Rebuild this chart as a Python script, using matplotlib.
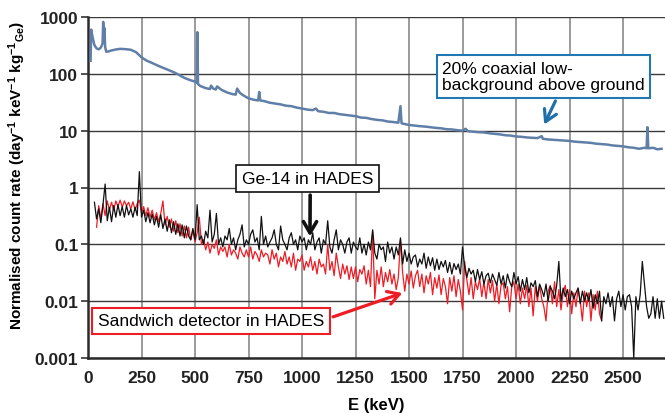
import matplotlib

matplotlib.use("Agg")
import matplotlib.pyplot as plt
import numpy as np

# 20% coaxial detector above ground (energy keV, rate)
blue_energy = [
    12, 15, 22, 30, 40, 50, 60, 68, 71, 74, 77, 80, 85, 95, 110, 130, 150, 175,
    200, 225, 250, 275, 300, 325, 350, 375, 400, 425, 450, 475, 500, 508, 511,
    514, 525, 550, 570, 575, 585, 597, 603, 625, 650, 675, 690, 697, 710, 725,
    750, 775, 795, 800, 805, 825, 850, 875, 900, 925, 950, 975, 1000, 1025,
    1050, 1065, 1075, 1100, 1125, 1150, 1175, 1200, 1225, 1250, 1275, 1300,
    1325, 1350, 1375, 1400, 1425, 1450, 1460, 1465, 1475, 1500, 1525, 1550,
    1575, 1600, 1625, 1650, 1675, 1700, 1725, 1750, 1764, 1775, 1800, 1825,
    1850, 1875, 1900, 1925, 1950, 1975, 2000, 2025, 2050, 2075, 2100, 2120,
    2125, 2150, 2175, 2200, 2225, 2250, 2275, 2300, 2325, 2350, 2375, 2400,
    2425, 2450, 2475, 2500, 2525, 2550, 2575, 2600, 2610, 2614, 2618, 2640,
    2660, 2680,
]
blue_rate = [
    170, 600, 430, 320, 280, 270, 290, 340, 820, 420, 640, 300, 245, 248, 258,
    268, 275, 272, 265, 240, 195, 170, 155, 140, 128, 117, 107, 96, 85, 78, 73,
    70, 540, 66, 61, 56, 54, 62, 55, 53, 60, 52, 47, 44, 43, 55, 46, 42, 37,
    35, 34, 48, 34, 33, 31, 30, 29, 27.5, 27, 25.5, 24.5, 23.5, 23, 24.5, 22,
    21.5, 20.5, 20.5, 19.5, 19, 18.5, 18, 17, 16.8, 16, 15.5, 15.2, 14.5, 14.2,
    13.8, 27, 13.5, 13.2, 12.6, 12.3, 12, 11.8, 11.5, 11.2, 11, 10.6, 10.5,
    10.2, 10, 10.8, 9.8, 9.6, 9.4, 9.3, 9.0, 8.8, 8.6, 8.3, 8.2, 7.9, 7.8, 7.6,
    7.5, 7.4, 8.0, 7.2, 7.0, 6.9, 6.8, 6.7, 6.6, 6.4, 6.3, 6.2, 6.1, 5.9, 5.8,
    5.7, 5.5, 5.4, 5.3, 5.1, 5.0, 4.8, 5.0, 4.9, 11.5, 4.9, 5.0, 4.7, 4.8,
]

# Ge-14 in HADES, 10 keV bins from 30 keV
ge14_energy = np.arange(30, 2700, 10)
ge14_rate = [
    0.55, 0.28, 0.42, 0.24, 0.50, 1.15, 0.26, 0.45, 0.25, 0.48,
    0.30, 0.50, 0.32, 0.46, 0.30, 0.48, 0.33, 0.42, 0.30, 0.45,
    0.32, 1.90, 0.30, 0.40, 0.25, 0.36, 0.24, 0.34, 0.22, 0.31,
    0.20, 0.33, 0.19, 0.28, 0.17, 0.27, 0.16, 0.25, 0.15, 0.23,
    0.14, 0.22, 0.13, 0.21, 0.14, 0.12, 0.19, 0.12, 0.50, 0.12,
    0.14, 0.10, 0.17, 0.13, 0.40, 0.11, 0.15, 0.35, 0.10, 0.13,
    0.09, 0.14, 0.12, 0.19, 0.10, 0.13, 0.08, 0.12, 0.15, 0.22,
    0.09, 0.12, 0.10, 0.15, 0.18, 0.11, 0.13, 0.08, 0.31, 0.10,
    0.14, 0.09, 0.11, 0.13, 0.18, 0.10, 0.08, 0.21, 0.12, 0.10,
    0.08, 0.13, 0.16, 0.10, 0.12, 0.08, 0.14, 0.11, 0.13, 0.08,
    0.12, 0.10, 0.16, 0.08, 0.11, 0.13, 0.07, 0.12, 0.10, 0.26,
    0.09, 0.07, 0.12, 0.18, 0.08, 0.12, 0.10, 0.07, 0.11, 0.13,
    0.07, 0.11, 0.09, 0.08, 0.13, 0.07, 0.10, 0.065, 0.11, 0.08,
    0.18, 0.07, 0.055, 0.10, 0.08, 0.09, 0.05, 0.11, 0.07, 0.09,
    0.055, 0.09, 0.065, 0.13, 0.045, 0.08, 0.05, 0.07, 0.045, 0.06,
    0.065, 0.04, 0.055, 0.045, 0.07, 0.038, 0.06, 0.042, 0.058, 0.035,
    0.055, 0.036, 0.05, 0.04, 0.052, 0.032, 0.048, 0.03, 0.046, 0.036,
    0.045, 0.03, 0.09, 0.04, 0.026, 0.038, 0.03, 0.035, 0.022, 0.036,
    0.024, 0.033, 0.02, 0.028, 0.031, 0.021, 0.03, 0.024, 0.019, 0.032,
    0.02, 0.028, 0.017, 0.03, 0.022, 0.018, 0.032, 0.02, 0.027, 0.015,
    0.024, 0.016, 0.026, 0.014, 0.021, 0.018, 0.023, 0.012, 0.02, 0.016,
    0.012, 0.02, 0.01, 0.018, 0.015, 0.011, 0.019, 0.05, 0.01, 0.017,
    0.012, 0.016, 0.009, 0.015, 0.011, 0.014, 0.017, 0.009, 0.015, 0.01,
    0.014, 0.01, 0.016, 0.0075, 0.013, 0.009, 0.015, 0.0045, 0.012, 0.009,
    0.014, 0.008, 0.012, 0.0045, 0.011, 0.015, 0.008, 0.013, 0.007, 0.012,
    0.013, 0.008, 0.001, 0.012, 0.007, 0.013, 0.05, 0.02, 0.008, 0.005,
    0.006, 0.012, 0.005, 0.011, 0.005, 0.01, 0.005,
]

# sandwich detector in HADES, 10 keV bins from 40 keV
sandwich_energy = np.arange(40, 2410, 10)
sandwich_rate = [
    0.20, 0.48, 0.28, 0.52, 0.32, 0.58, 0.40, 0.55, 0.40, 0.58,
    0.46, 0.60, 0.45, 0.58, 0.48, 0.55, 0.42, 0.56, 0.40, 0.52,
    0.60, 0.36, 0.46, 0.32, 0.44, 0.30, 0.40, 0.27, 0.36, 0.25,
    0.35, 0.58, 0.22, 0.31, 0.20, 0.28, 0.17, 0.26, 0.16, 0.23,
    0.14, 0.21, 0.13, 0.20, 0.12, 0.18, 0.11, 0.16, 0.30, 0.10,
    0.12, 0.08, 0.11, 0.07, 0.10, 0.085, 0.12, 0.065, 0.09, 0.075,
    0.09, 0.06, 0.10, 0.065, 0.08, 0.07, 0.055, 0.09, 0.07, 0.06,
    0.08, 0.06, 0.09, 0.055, 0.075, 0.065, 0.05, 0.08, 0.06, 0.07,
    0.065, 0.045, 0.08, 0.055, 0.07, 0.04, 0.06, 0.05, 0.075, 0.045,
    0.06, 0.04, 0.07, 0.035, 0.055, 0.05, 0.065, 0.035, 0.05, 0.04,
    0.06, 0.035, 0.05, 0.03, 0.055, 0.04, 0.045, 0.03, 0.10, 0.035,
    0.05, 0.028, 0.07, 0.04, 0.025, 0.045, 0.03, 0.042, 0.024, 0.04,
    0.025, 0.04, 0.022, 0.036, 0.03, 0.042, 0.02, 0.035, 0.018, 0.17,
    0.011, 0.035, 0.02, 0.04, 0.018, 0.032, 0.022, 0.036, 0.02, 0.03,
    0.016, 0.026, 0.12, 0.032, 0.015, 0.03, 0.02, 0.034, 0.017, 0.028,
    0.035, 0.018, 0.03, 0.014, 0.028, 0.02, 0.032, 0.013, 0.026, 0.017,
    0.029, 0.013, 0.025, 0.018, 0.009, 0.026, 0.015, 0.028, 0.012, 0.024,
    0.015, 0.007, 0.05, 0.024, 0.013, 0.026, 0.011, 0.022, 0.016, 0.025,
    0.012, 0.022, 0.011, 0.024, 0.014, 0.023, 0.01, 0.02, 0.009, 0.019,
    0.021, 0.011, 0.018, 0.0065, 0.018, 0.022, 0.011, 0.02, 0.009, 0.017,
    0.011, 0.019, 0.008, 0.017, 0.0055, 0.018, 0.01, 0.019, 0.011, 0.008,
    0.0045, 0.015, 0.019, 0.009, 0.022, 0.008, 0.016, 0.007, 0.014, 0.019,
    0.008, 0.016, 0.006, 0.014, 0.008, 0.017, 0.01, 0.0045, 0.015, 0.008,
    0.014, 0.0045, 0.013, 0.007, 0.015, 0.006, 0.0045,
]

x_ticks = [0, 250, 500, 750, 1000, 1250, 1500, 1750, 2000, 2250, 2500]
y_ticks = [0.001, 0.01, 0.1, 1, 10, 100, 1000]
y_tick_labels = ["0.001", "0.01", "0.1", "1", "10", "100", "1000"]

plt.rcParams["font.family"] = ["Liberation Sans", "DejaVu Sans"]
plt.rcParams["mathtext.fontset"] = "custom"
plt.rcParams["mathtext.rm"] = "Liberation Sans:bold"
plt.rcParams["mathtext.it"] = "Liberation Sans:bold"
plt.rcParams["mathtext.default"] = "rm"

fig = plt.figure(figsize=(6.65, 4.14), dpi=100)
ax = fig.add_axes([88 / 665, 1 - 359 / 414, 577 / 665, 341 / 414])

ax.plot(blue_energy, blue_rate, color="#5f7fa8", lw=1.8, zorder=3)
ax.plot(sandwich_energy, sandwich_rate, color="#ee1c24", lw=0.9, zorder=3)
ax.plot(ge14_energy, ge14_rate, color="#111111", lw=0.9, zorder=4)

ax.set_yscale("log")
ax.set_xlim(0, 2696)
ax.set_ylim(0.001, 1000)

ax.set_xticks(x_ticks)
ax.set_xticklabels([str(t) for t in x_ticks], fontsize=12.5, fontweight="bold",
                   color="#222222")
ax.set_yticks(y_ticks)
ax.set_yticklabels(y_tick_labels, fontsize=12.5, fontweight="bold",
                   color="#222222")
ax.minorticks_off()
ax.tick_params(axis="y", length=5, width=1.2, color="#333333", pad=2)
ax.tick_params(axis="x", length=0, pad=9)

ax.grid(True, axis="y", color="#3a3a3a", lw=1.0, zorder=1)
ax.grid(True, axis="x", color="#8a8a8a", lw=1.2, zorder=1)

for side in ("top", "right"):
    ax.spines[side].set_visible(False)
for side in ("left", "bottom"):
    ax.spines[side].set_linewidth(1.8)
    ax.spines[side].set_color("#2a2a2a")

ax.set_xlabel("E (keV)", fontsize=12, fontweight="bold", labelpad=8)
ax.set_ylabel(
    r"Normalised count rate (day$^{-1}$ keV$^{-1}$ kg$^{-1}$$_{\mathrm{Ge}}$)",
    fontsize=11, fontweight="bold",
)
ax.yaxis.set_label_coords(-0.104, 0.54)

# annotation boxes with arrows
arrow_style = "->,head_length=0.65,head_width=0.38"
ax.annotate(
    "Ge-14 in HADES", xy=(1037, 0.123), xytext=(1026, 1.46),
    fontsize=12.5, ha="center", va="center", zorder=6,
    bbox=dict(boxstyle="square,pad=0.35", fc="white", ec="#111111", lw=1.2),
    arrowprops=dict(arrowstyle=arrow_style, color="#111111", lw=2.6,
                    relpos=(0.52, 0.0)),
)
ax.annotate(
    "20% coaxial low-\nbackground above ground", xy=(2126, 11.6),
    xytext=(2128, 89.6), fontsize=12.5, ha="center", va="center",
    multialignment="left", linespacing=1.1, zorder=6,
    bbox=dict(boxstyle="square,pad=0.32", fc="white", ec="#1f78b4", lw=1.5),
    arrowprops=dict(arrowstyle=arrow_style, color="#1f6fa8", lw=2.3,
                    relpos=(0.58, 0.0)),
)
ax.annotate(
    "Sandwich detector in HADES", xy=(1481, 0.0144), xytext=(575, 0.00454),
    fontsize=12.5, ha="center", va="center", zorder=6,
    bbox=dict(boxstyle="square,pad=0.32", fc="white", ec="#ee1c24", lw=1.5),
    arrowprops=dict(arrowstyle=arrow_style, color="#ee1c24", lw=2.3,
                    relpos=(1.0, 0.55)),
)

fig.savefig("out.png", dpi=100)
plt.close(fig)
